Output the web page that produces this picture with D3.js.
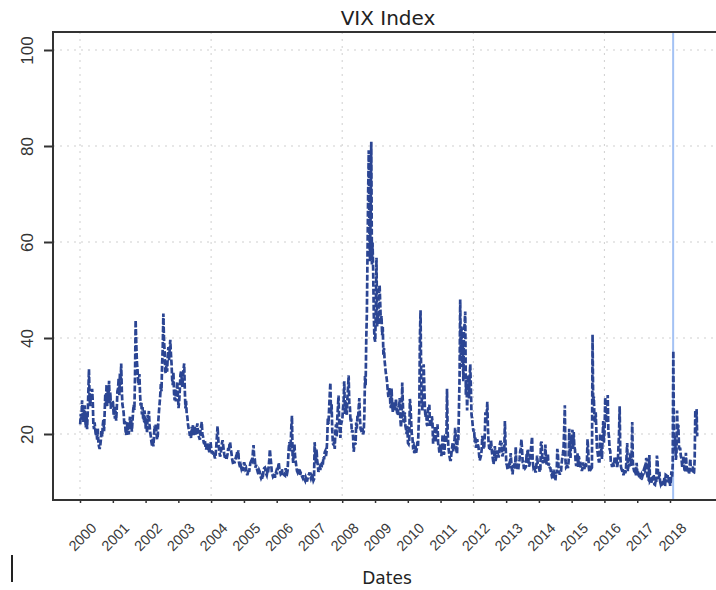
<!DOCTYPE html>
<html>
<head>
<meta charset="utf-8">
<script src="https://cdn.jsdelivr.net/npm/d3@7"></script>
<style>
  body { margin: 0; background: #fff; }
  svg { display: block; font-family: "DejaVu Sans", sans-serif; }
</style>
</head>
<body>
<svg width="716" height="590"></svg>
<script>
// weekly VIX readings, one array per year (52 weeks each, 2018 ends late Oct)
var vix2000 = [22.0,24.2,23.0,27.0,24.1,22.5,24.6,26.0,23.2,21.4,24.1,21.0,24.5,
  28.6,33.5,27.1,25.8,28.2,26.9,29.4,27.0,22.1,21.0,22.4,20.9,19.6,
  20.5,18.8,21.2,18.2,17.4,16.9,17.6,18.9,20.8,19.5,21.9,23.0,20.6,
  24.6,28.4,26.1,30.3,25.8,29.3,27.0,31.1,26.4,28.7,25.1,26.8,26.9];
var vix2001 = [26.6,24.0,25.8,23.2,24.9,22.8,25.4,28.9,29.5,31.6,28.1,32.8,30.2,
  34.7,29.0,26.1,25.4,24.3,21.9,22.7,20.6,19.8,21.1,22.5,20.3,19.9,
  21.8,23.6,21.0,22.9,20.5,22.6,24.8,26.1,25.0,31.8,43.7,38.9,35.1,
  33.4,31.0,30.2,32.5,28.4,25.9,26.7,24.1,25.6,23.0,22.8,24.9,23.8];
var vix2002 = [21.1,22.6,20.2,24.0,23.4,24.8,21.9,20.4,19.5,18.3,17.6,19.0,17.4,
  19.2,21.7,20.5,22.1,20.3,18.9,19.5,22.8,24.7,26.3,28.0,30.4,28.9,
  34.5,37.9,45.1,39.6,37.2,33.1,32.6,34.9,33.0,36.3,38.1,35.4,37.5,
  39.6,36.8,34.7,31.4,30.2,32.9,28.5,27.0,29.4,26.8,28.2,30.9,28.6];
var vix2003 = [25.4,26.7,29.0,32.3,33.0,31.6,29.8,31.4,33.5,34.7,29.2,25.3,26.9,
  24.2,23.6,22.1,21.2,20.8,19.6,20.3,19.1,21.5,20.4,21.9,19.8,20.6,
  21.5,20.3,19.9,21.3,22.2,20.1,19.6,19.2,18.8,20.9,21.6,22.5,20.0,
  19.5,18.3,17.9,18.6,17.2,16.8,17.7,18.2,16.5,17.0,16.2,17.1,18.3];
var vix2004 = [16.8,15.9,16.6,15.7,16.3,15.4,14.9,15.8,17.5,19.6,21.6,19.1,17.3,
  16.2,15.3,15.8,16.9,18.1,18.7,17.6,16.4,15.5,14.9,15.6,14.6,15.2,
  15.9,17.1,16.4,17.8,18.3,17.0,16.1,15.0,14.2,13.7,14.4,13.9,14.6,
  15.0,15.6,16.3,15.1,16.6,14.2,13.5,13.0,13.4,12.8,13.2,12.3,13.3];
var vix2005 = [14.1,13.6,12.7,12.9,12.1,11.4,11.9,12.6,12.1,13.2,14.0,14.3,13.8,
  13.9,16.3,17.7,15.2,14.8,13.0,13.6,12.9,12.4,11.9,11.6,12.4,12.1,
  11.2,10.8,11.1,10.6,11.3,12.6,12.9,13.0,12.3,11.7,11.4,12.2,11.9,
  13.0,14.6,16.8,15.2,13.9,12.2,11.6,11.1,11.3,11.9,10.9,11.6,12.1];
var vix2006 = [11.6,12.3,13.1,14.0,12.8,12.3,11.7,11.9,12.7,11.6,11.2,11.5,11.4,
  11.3,12.9,11.7,11.6,12.3,14.8,17.2,18.3,16.4,17.9,21.5,23.8,15.6,
  14.0,16.8,17.9,15.2,14.3,13.2,12.3,12.0,12.4,11.8,12.7,11.5,11.9,
  11.6,11.2,10.9,11.4,10.7,10.6,10.3,10.9,10.5,10.1,10.8,11.3,11.6];
var vix2007 = [12.0,11.1,10.7,11.1,10.5,10.9,10.3,10.6,18.3,15.7,13.8,16.8,14.6,
  13.5,12.1,12.6,13.0,12.5,13.9,12.9,14.2,13.6,15.2,14.7,16.2,16.5,
  15.4,16.4,18.9,23.4,22.1,25.2,28.1,30.7,24.1,26.2,20.8,18.0,17.8,
  18.3,16.9,20.6,22.0,19.4,23.2,25.5,28.0,22.9,20.6,19.2,22.6,22.5];
var vix2008 = [23.2,25.4,27.1,31.0,24.0,26.8,25.2,24.0,27.5,29.6,32.2,26.3,25.6,
  22.5,23.2,20.3,20.8,19.5,16.3,17.5,18.2,17.8,22.4,21.1,23.8,23.4,
  25.6,27.5,23.2,21.0,20.7,20.3,21.3,19.9,20.5,24.0,32.1,30.0,39.8,
  45.1,57.5,69.9,79.1,62.9,56.0,66.3,80.9,55.3,59.9,54.3,44.9,40.0];
var vix2009 = [39.2,46.1,56.7,42.3,44.5,42.9,49.3,51.0,47.0,43.0,44.6,40.6,42.3,
  36.5,37.9,35.2,33.9,32.6,31.8,30.6,28.9,27.7,29.0,29.6,26.4,25.4,
  29.5,26.0,24.6,26.3,25.0,26.6,24.9,27.3,25.3,24.3,23.9,25.6,25.6,
  27.5,23.1,21.4,23.4,30.7,26.4,22.7,22.6,24.5,21.7,21.0,20.0,21.7];
var vix2010 = [18.1,17.9,18.7,27.3,26.1,22.7,20.1,19.4,17.4,17.6,16.0,17.0,17.6,
  16.1,16.9,18.4,17.5,22.0,25.0,40.1,45.8,32.1,26.6,24.9,28.6,34.5,
  30.1,25.0,23.5,24.6,22.0,21.7,25.2,25.5,26.1,21.6,22.0,21.9,23.7,
  22.5,18.0,19.1,19.9,21.7,18.3,20.6,21.2,22.0,18.0,17.5,16.1,17.8];
var vix2011 = [17.1,15.4,17.2,19.9,17.6,15.7,16.4,19.2,19.0,18.4,29.4,20.6,17.7,
  16.4,15.3,14.6,14.6,15.9,17.1,18.1,16.4,17.2,18.7,21.3,19.1,16.5,
  15.9,19.9,18.7,25.3,32.0,48.0,36.4,42.4,33.9,38.5,31.0,41.3,42.9,
  45.5,28.2,31.3,24.9,29.9,32.3,27.4,32.0,34.5,29.8,24.0,23.2,21.6];
var vix2012 = [20.5,20.9,18.3,19.4,17.1,18.0,18.9,17.8,17.3,15.6,14.5,15.0,15.5,
  16.7,19.6,18.6,16.9,17.0,19.9,24.5,22.0,24.1,26.7,21.2,18.3,17.1,
  17.0,16.7,18.7,16.7,15.6,14.7,13.7,15.1,17.5,14.4,15.0,16.6,15.7,
  15.7,15.1,16.1,17.9,18.6,17.6,18.2,15.3,15.9,17.2,16.4,22.7,18.0];
var vix2013 = [13.8,13.5,12.6,12.9,13.4,12.9,14.3,16.0,14.0,12.6,11.6,13.6,12.7,
  13.9,12.8,17.3,13.6,13.5,12.6,12.5,13.8,14.6,16.3,17.0,18.9,16.9,
  14.2,14.2,12.7,13.4,12.9,13.1,15.1,14.9,16.8,15.0,13.2,13.6,15.8,
  16.6,18.1,19.4,14.2,13.2,13.5,12.9,12.2,12.2,13.8,15.5,13.8,13.7];
var vix2014 = [12.9,12.1,12.4,18.1,18.4,15.3,13.9,14.5,14.0,14.1,17.8,15.0,13.9,
  13.9,15.9,13.4,13.8,13.0,12.9,12.0,11.4,11.7,10.7,12.6,10.9,11.3,
  10.3,12.1,11.8,16.9,15.8,13.1,12.1,11.5,12.1,12.3,14.0,15.1,15.9,
  17.2,21.2,26.0,14.5,13.1,13.3,13.3,12.9,14.3,21.1,16.5,15.0,19.2];
var vix2015 = [17.8,20.9,16.7,20.4,17.3,16.8,14.3,13.3,15.2,16.0,13.0,15.4,14.7,
  14.6,13.2,12.9,12.3,12.9,14.1,13.1,12.7,13.8,13.1,13.8,14.0,18.9,
  16.8,13.0,12.1,12.5,13.4,12.8,13.0,40.7,26.1,27.8,23.2,22.3,24.5,
  20.9,17.1,16.2,15.1,14.3,14.3,20.1,15.5,16.9,14.8,19.3,22.7,18.2];
var vix2016 = [20.7,27.6,24.4,22.4,23.4,28.1,20.5,19.4,16.9,16.5,14.0,13.8,13.1,
  14.1,13.6,13.2,15.2,14.7,14.4,15.2,13.1,14.0,17.0,20.1,25.8,15.6,
  13.2,12.7,12.0,12.7,11.4,11.9,12.6,11.8,12.5,15.4,18.1,12.3,13.3,
  13.5,13.5,16.1,13.3,15.0,22.5,14.2,12.9,12.3,12.1,12.7,11.4,14.0];
var vix2017 = [11.6,11.2,11.5,11.0,11.9,10.9,10.8,11.5,11.2,11.7,12.5,12.9,12.4,
  12.9,15.0,14.6,10.8,10.6,10.4,15.6,10.2,10.4,9.8,10.4,11.4,11.2,
  11.2,9.5,9.4,10.3,10.0,15.5,14.3,11.3,10.6,12.1,10.2,9.6,10.0,
  9.5,9.6,10.3,9.8,11.0,9.1,11.5,11.4,9.9,11.4,10.5,10.2,11.0];
var vix2018 = [9.2,10.2,12.2,11.1,13.5,37.3,19.5,16.5,19.6,14.6,15.8,24.9,20.0,
  21.9,17.4,16.9,16.9,15.4,14.8,13.4,13.4,15.4,13.5,12.3,12.1,16.1,
  13.4,12.7,12.2,12.9,11.6,13.2,14.8,12.6,12.2,12.9,13.2,11.7,11.9,
  14.8,24.9,19.9,25.2,19.5];

var years = [2000,2001,2002,2003,2004,2005,2006,2007,2008,2009,
  2010,2011,2012,2013,2014,2015,2016,2017,2018];
var yearly = [vix2000,vix2001,vix2002,vix2003,vix2004,vix2005,vix2006,vix2007,vix2008,vix2009,
  vix2010,vix2011,vix2012,vix2013,vix2014,vix2015,vix2016,vix2017,vix2018];

var yTicks = [20, 40, 60, 80, 100];
var gridYears = [2000, 2004, 2008, 2012, 2016];
var markerDate = new Date(2018, 1, 5);

// build the series: week i of a year sits at Jan 3 + 7*i days
var series = [];
years.forEach(function(yr, k){
  yearly[k].forEach(function(v, i){
    series.push({date: d3.timeDay.offset(new Date(yr, 0, 3), 7*i), value: v});
  });
});

var svg = d3.select("svg");
var plot = {left: 53, right: 726, top: 32, bottom: 500};

var x = d3.scaleTime()
  .domain([new Date(2000, 0, 1), new Date(2018, 0, 1)])
  .range([80, 670]);
var y = d3.scaleLinear()
  .domain([6.25, 103.75])
  .range([plot.bottom, plot.top]);

svg.append("clipPath").attr("id", "clip")
  .append("rect")
  .attr("x", plot.left).attr("y", plot.top)
  .attr("width", plot.right - plot.left).attr("height", plot.bottom - plot.top);

// grid
svg.append("g").selectAll("line")
  .data(yTicks).enter().append("line")
  .attr("x1", plot.left).attr("x2", plot.right)
  .attr("y1", function(d){ return y(d); })
  .attr("y2", function(d){ return y(d); })
  .attr("stroke", "#cfcfcf").attr("stroke-width", 1)
  .attr("stroke-dasharray", "2,5");
svg.append("g").selectAll("line")
  .data(gridYears).enter().append("line")
  .attr("x1", function(d){ return x(new Date(d, 0, 1)); })
  .attr("x2", function(d){ return x(new Date(d, 0, 1)); })
  .attr("y1", plot.top).attr("y2", plot.bottom)
  .attr("stroke", "#cfcfcf").attr("stroke-width", 1)
  .attr("stroke-dasharray", "2,5");

// marker line (under the data)
svg.append("line")
  .attr("x1", x(markerDate)).attr("x2", x(markerDate))
  .attr("y1", plot.top).attr("y2", plot.bottom)
  .attr("stroke", "#a4c2f4").attr("stroke-width", 2);

// vix line
var line = d3.line()
  .x(function(d){ return x(d.date); })
  .y(function(d){ return y(d.value); });

svg.append("path")
  .datum(series)
  .attr("clip-path", "url(#clip)")
  .attr("d", line)
  .attr("fill", "none")
  .attr("stroke", "#2b4593")
  .attr("stroke-width", 2.7)
  .attr("stroke-dasharray", "6,2");

// axes
var xAxis = d3.axisBottom(x)
  .tickValues(years.map(function(d){ return new Date(d, 0, 1); }))
  .tickFormat(d3.timeFormat("%Y"))
  .tickSize(3).tickSizeOuter(0);
var gx = svg.append("g")
  .attr("transform", "translate(0," + plot.bottom + ")")
  .call(xAxis);
gx.select(".domain").remove();
gx.selectAll(".tick line").attr("stroke", "#333").attr("stroke-width", 1.5);
gx.selectAll(".tick text")
  .attr("y", 0).attr("dy", null)
  .attr("transform", "translate(2,37) rotate(-45)")
  .attr("text-anchor", "middle")
  .attr("dominant-baseline", "central")
  .attr("font-size", 14.5)
  .attr("fill", "#3a3a3a");

var yAxis = d3.axisLeft(y).tickValues(yTicks).tickSize(9).tickSizeOuter(0);
var gy = svg.append("g")
  .attr("transform", "translate(" + plot.left + ",0)")
  .call(yAxis);
gy.select(".domain").remove();
gy.selectAll(".tick line").attr("stroke", "#333").attr("stroke-width", 2);
gy.selectAll(".tick text")
  .attr("x", 0).attr("dy", null)
  .attr("transform", "translate(-26,0) rotate(-90)")
  .attr("text-anchor", "middle")
  .attr("dominant-baseline", "central")
  .attr("font-size", 17)
  .attr("fill", "#333");

// frame
svg.append("path")
  .attr("d", "M" + plot.right + "," + plot.top + "H" + plot.left + "V" + plot.bottom + "H" + plot.right)
  .attr("fill", "none").attr("stroke", "#333").attr("stroke-width", 2);

// titles
svg.append("text")
  .attr("x", 388).attr("y", 25)
  .attr("text-anchor", "middle")
  .attr("font-size", 20).attr("fill", "#222")
  .text("VIX Index");
svg.append("text")
  .attr("x", 387).attr("y", 584)
  .attr("text-anchor", "middle")
  .attr("font-size", 17).attr("fill", "#222")
  .text("Dates");

svg.append("line")
  .attr("x1", 12).attr("x2", 12).attr("y1", 555).attr("y2", 582)
  .attr("stroke", "#222").attr("stroke-width", 2);
</script>
</body>
</html>
